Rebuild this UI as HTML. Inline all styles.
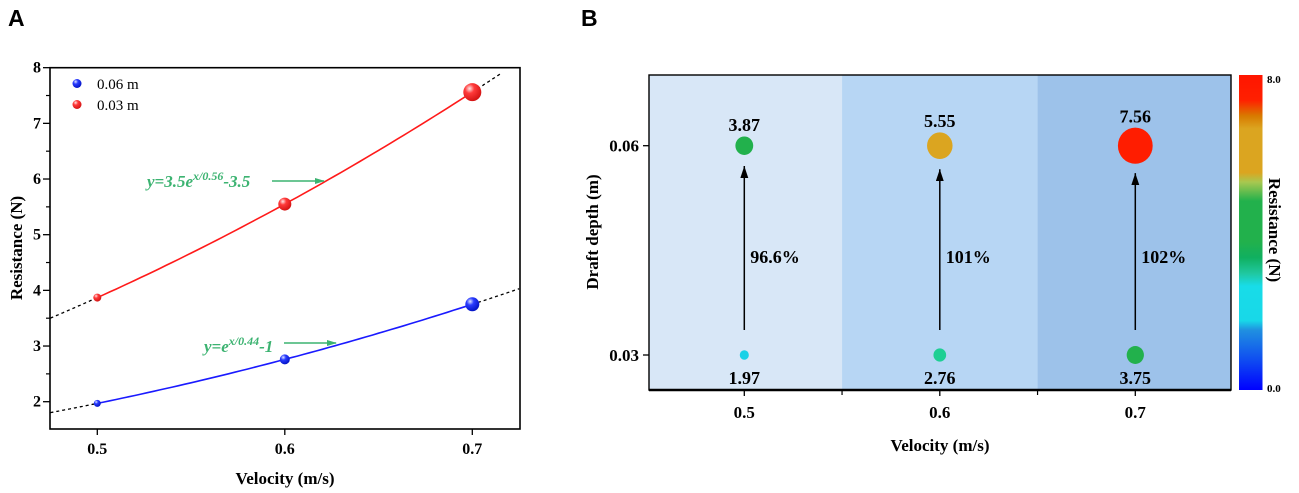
<!DOCTYPE html>
<html><head><meta charset="utf-8"><style>
html,body{margin:0;padding:0;background:#fff;}
svg{display:block;font-family:"Liberation Serif",serif;}
</style></head><body>
<svg id="fig" width="1299" height="493" viewBox="0 0 1299 493" xmlns="http://www.w3.org/2000/svg">
<defs>
<radialGradient id="gBlue" cx="0.35" cy="0.3" r="0.75"><stop offset="0" stop-color="#e0e6ff"/><stop offset="0.35" stop-color="#2a3cff"/><stop offset="1" stop-color="#0010c0"/></radialGradient>
<radialGradient id="gRed" cx="0.35" cy="0.3" r="0.75"><stop offset="0" stop-color="#ffe6e6"/><stop offset="0.35" stop-color="#ff3a3a"/><stop offset="1" stop-color="#d01010"/></radialGradient>
<linearGradient id="cbar" x1="0" y1="1" x2="0" y2="0">
<stop offset="0" stop-color="#0000ff"/><stop offset="0.1" stop-color="#1050f0"/><stop offset="0.19" stop-color="#2090e0"/>
<stop offset="0.22" stop-color="#18d8e8"/><stop offset="0.33" stop-color="#18dce8"/><stop offset="0.37" stop-color="#20c8a0"/>
<stop offset="0.42" stop-color="#10b060"/><stop offset="0.47" stop-color="#22b14c"/><stop offset="0.6" stop-color="#22b14c"/>
<stop offset="0.66" stop-color="#a8c850"/><stop offset="0.69" stop-color="#dba520"/><stop offset="0.83" stop-color="#dba520"/>
<stop offset="0.87" stop-color="#d87a00"/><stop offset="0.92" stop-color="#ff2000"/><stop offset="1" stop-color="#ff1500"/>
</linearGradient>
<marker id="arrG" markerWidth="10" markerHeight="8" refX="9" refY="4" orient="auto" markerUnits="userSpaceOnUse"><path d="M0,1 L10,4 L0,7 Z" fill="#3cb371"/></marker>
<marker id="arrK" markerWidth="13" markerHeight="8" refX="12" refY="4" orient="auto" markerUnits="userSpaceOnUse"><path d="M0,0 L12,4 L0,8 Z" fill="#000"/></marker>
</defs>
<text x="8" y="26" font-family="Liberation Sans, sans-serif" font-weight="bold" font-size="23">A</text>
<text x="581" y="26" font-family="Liberation Sans, sans-serif" font-weight="bold" font-size="23">B</text>
<g id="panelA"></g>
<g id="panelB"></g>
</svg>
<script>
const velocities = [0.5, 0.6, 0.7];
const depth006 = [1.97, 2.76, 3.75];   // blue series "0.06 m" (plotted lower)
const depth003 = [3.87, 5.55, 7.56];   // red series "0.03 m"
const yTicksA = [2, 3, 4, 5, 6, 7, 8];
const xTicks = [0.5, 0.6, 0.7];
const depths = [0.03, 0.06];
const lowValues = [1.97, 2.76, 3.75];
const highValues = [3.87, 5.55, 7.56];
const increases = ["96.6%", "101%", "102%"];

const NS = "http://www.w3.org/2000/svg";
function mk(tag, attrs, parent, text){
  const e = document.createElementNS(NS, tag);
  for (const k in attrs) e.setAttribute(k, attrs[k]);
  if (text !== undefined) e.textContent = text;
  parent.appendChild(e); return e;
}
// ---------- Panel A ----------
const A = document.getElementById('panelA');
const aL=50, aR=520, aT=67.7, aB=429;
const xA = v => 97.3 + (v-0.5)*1875;
const yA = v => 401.7 - (v-2)*55.67;
mk('rect',{x:aL,y:aT,width:aR-aL,height:aB-aT,fill:'none',stroke:'#000','stroke-width':1.6},A);
yTicksA.forEach(t=>{
  const l = mk('line',{x1:aL-7,x2:aL,y1:yA(t),y2:yA(t),stroke:'#000','stroke-width':1.3},A);
  
  
  if (t<8){ const m = mk('line',{x1:aL-4,x2:aL,y1:yA(t+0.5),y2:yA(t+0.5),stroke:'#000','stroke-width':1.2},A);   }
  const tx = mk('text',{x:aL-9,y:yA(t)+5,'text-anchor':'end','font-weight':'bold','font-size':16},A,String(t));
  
  
});
xTicks.forEach(t=>{
  const l = mk('line',{x1:xA(t),x2:xA(t),y1:aB,y2:aB+6,stroke:'#000','stroke-width':1.3},A);
  
  
  const tx = mk('text',{x:xA(t),y:aB+25,'text-anchor':'middle','font-weight':'bold','font-size':16},A,t.toFixed(1));
  
  
});
let t1 = mk('text',{x:285,y:484,'text-anchor':'middle','font-weight':'bold','font-size':17},A,'Velocity (m/s)');
 
let t2 = mk('text',{x:0,y:0,'text-anchor':'middle','font-weight':'bold','font-size':17,transform:'translate(22,248) rotate(-90)'},A,'Resistance (N)');
 

function lagr(xs, ys){ return x => { let s=0; for(let i=0;i<3;i++){ let p=ys[i]; for(let j=0;j<3;j++) if(j!==i) p*=(x-xs[j])/(xs[i]-xs[j]); s+=p;} return s; }; }
function pathOf(f, x0, x1){ let d=''; for(let i=0;i<=60;i++){ const x=x0+(x1-x0)*i/60; d+=(i?'L':'M')+xA(x).toFixed(1)+','+yA(f(x)).toFixed(1);} return d; }
function series(vals, color, grad, name, xEnd, radii){
  const f = lagr(velocities, vals);
  const d1 = mk('path',{d:pathOf(f,0.475,0.5),fill:'none',stroke:'#000','stroke-width':1.3,'stroke-dasharray':'3,3'},A);
   
  const d2 = mk('path',{d:pathOf(f,0.7,xEnd),fill:'none',stroke:'#000','stroke-width':1.3,'stroke-dasharray':'3,3'},A);
   
  const ln = mk('path',{d:pathOf(f,0.5,0.7),fill:'none',stroke:color,'stroke-width':1.6},A);
   
  vals.forEach((v,i)=>{
    const c = mk('circle',{cx:xA(velocities[i]),cy:yA(v),r:radii[i],fill:'url(#'+grad+')'},A);
     
  });
}
series(depth003,'#ff1a1a','gRed','series-0.03m',0.7155,[4,6.5,9]);
series(depth006,'#1a1aff','gBlue','series-0.06m',0.725,[3.5,5,7]);
// legend
let lg1 = mk('circle',{cx:77,cy:83.5,r:4.5,fill:'url(#gBlue)'},A);  
let lg2 = mk('text',{x:97,y:89,'font-size':15},A,'0.06 m');  
let lg3 = mk('circle',{cx:77,cy:104.5,r:4.5,fill:'url(#gRed)'},A);  
let lg4 = mk('text',{x:97,y:110,'font-size':15},A,'0.03 m');  
// equations
A.insertAdjacentHTML('beforeend',
 '<text x="147" y="187" fill="#3cb371" font-weight="bold" font-style="italic" font-size="17">y=3.5e<tspan dy="-7" font-size="12">x/0.56</tspan><tspan dy="7">-3.5</tspan></text>'+
 '<line x1="272" y1="181" x2="324" y2="181" stroke="#3cb371" stroke-width="1.5" marker-end="url(#arrG)"/>'+
 '<text x="204" y="352" fill="#3cb371" font-weight="bold" font-style="italic" font-size="17">y=e<tspan dy="-7" font-size="12">x/0.44</tspan><tspan dy="7">-1</tspan></text>'+
 '<line x1="284" y1="343" x2="336" y2="343" stroke="#3cb371" stroke-width="1.5" marker-end="url(#arrG)"/>');

// ---------- Panel B ----------
const B = document.getElementById('panelB');
const bL=649, bR=1231, bT=75, bB=390;
const xB = v => 744.3 + (v-0.5)*1955;
const yB = d => 355 - (d-0.03)*(209.3/0.03);
const bandColors = ['#d8e7f7','#b7d6f4','#9dc2ea'];
velocities.forEach((v,i)=>{
  const x0 = i===0 ? bL : xB(v-0.05), x1 = i===2 ? bR : xB(v+0.05);
  const r = mk('rect',{x:x0,y:bT,width:x1-x0,height:bB-bT,fill:bandColors[i]},B);
   
});
mk('rect',{x:bL,y:bT,width:bR-bL,height:bB-bT,fill:'none',stroke:'#000','stroke-width':1.4},B);
mk('line',{x1:bL,x2:bR,y1:bB,y2:bB,stroke:'#000','stroke-width':2.4},B);
function colorFor(v){
  const stops=[[0,[0,0,255]],[1.7,[32,144,224]],[2.0,[24,216,232]],[2.7,[30,210,154]],[3.4,[34,177,76]],[4.8,[34,177,76]],[5.3,[168,200,80]],[5.5,[219,165,32]],[6.6,[219,165,32]],[7.0,[216,122,0]],[7.4,[255,32,0]],[8,[255,21,0]]];
  for(let i=1;i<stops.length;i++) if(v<=stops[i][0]){ const [a,ca]=stops[i-1],[b,cb]=stops[i]; const t=(v-a)/(b-a); return 'rgb('+ca.map((c,k)=>Math.round(c+(cb[k]-c)*t)).join(',')+')'; }
  return 'rgb(255,21,0)';
}
depths.forEach(d=>{
  const l = mk('line',{x1:bL-6,x2:bL,y1:yB(d),y2:yB(d),stroke:'#000','stroke-width':1.3},B);
   
  const t = mk('text',{x:bL-10,y:yB(d)+6,'text-anchor':'end','font-weight':'bold','font-size':17},B,d.toFixed(2));
   
});
[0.55,0.65].forEach(v=>{ const l=mk('line',{x1:xB(v),x2:xB(v),y1:bB,y2:bB+5,stroke:'#000','stroke-width':1.2},B);   });
xTicks.forEach(v=>{
  const l = mk('line',{x1:xB(v),x2:xB(v),y1:bB,y2:bB+6,stroke:'#000','stroke-width':1.3},B);
   
  const t = mk('text',{x:xB(v),y:418,'text-anchor':'middle','font-weight':'bold','font-size':17},B,v.toFixed(1));
   
});
velocities.forEach((v,i)=>{
  const x = xB(v);
  const a = mk('line',{x1:x,y1:yB(0.03)-25,x2:x,y2:yB(0.06)+13+highValues[i]*1.9,stroke:'#000','stroke-width':1.5,'marker-end':'url(#arrK)'},B);
   
  const p = mk('text',{x:x+6,y:263,'font-weight':'bold','font-size':18},B,increases[i]);
   
  const rh = 2.3*highValues[i], rl = 2.3*lowValues[i];
  const ch = mk('ellipse',{cx:x,cy:yB(0.06),rx:rh,ry:rh*1.04,fill:colorFor(highValues[i])},B);
   
  const th = mk('text',{x:x,y:yB(0.06)-rh-6,'text-anchor':'middle','font-weight':'bold','font-size':18},B,highValues[i].toFixed(2));
   
  const cl = mk('ellipse',{cx:x,cy:yB(0.03),rx:rl,ry:rl*1.04,fill:colorFor(lowValues[i])},B);
   
  const tl = mk('text',{x:x,y:yB(0.03)+29,'text-anchor':'middle','font-weight':'bold','font-size':18},B,lowValues[i].toFixed(2));
   
});
let bx = mk('text',{x:940,y:451,'text-anchor':'middle','font-weight':'bold','font-size':17},B,'Velocity (m/s)');
 
let by = mk('text',{x:0,y:0,'text-anchor':'middle','font-weight':'bold','font-size':17,transform:'translate(598,232) rotate(-90)'},B,'Draft depth (m)');
 
let cb = mk('rect',{x:1239,y:75,width:23.5,height:315,fill:'url(#cbar)'},B);
 
let c8 = mk('text',{x:1267,y:83,'font-weight':'bold','font-size':11},B,'8.0');
 
let c0 = mk('text',{x:1267,y:392,'font-weight':'bold','font-size':11},B,'0.0');
 
let ct = mk('text',{x:0,y:0,'text-anchor':'middle','font-weight':'bold','font-size':17,transform:'translate(1269,230) rotate(90)'},B,'Resistance (N)');
 
</script>
</body></html>
